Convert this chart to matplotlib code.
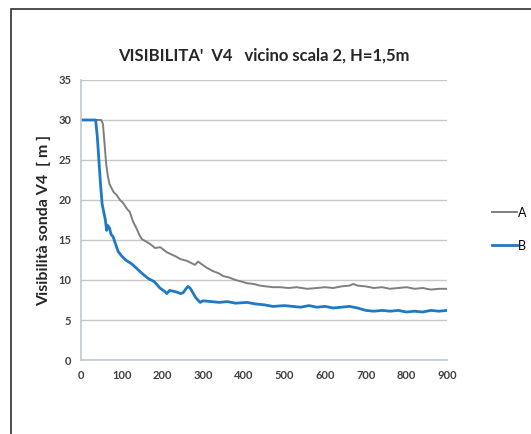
import matplotlib

matplotlib.use("Agg")
import matplotlib.pyplot as plt
from matplotlib.patches import Rectangle

# serie A (grigio)
x_a = [0, 50, 54, 58, 62, 66, 70, 75, 80, 88, 96, 104, 113, 120, 128, 136, 144, 150, 160, 170,
       182, 195, 210, 222, 231, 245, 260, 272, 280, 288, 296, 310, 325, 340, 349, 365, 380, 395,
       408, 425, 440, 455, 472, 490, 510, 530, 556, 580, 600, 620, 640, 660, 669, 680, 700, 720,
       740, 760, 780, 800, 820, 840, 860, 880, 900]
y_a = [30, 30, 29.5, 27, 24.5, 23, 22, 21.5, 21, 20.6, 20, 19.6, 18.9, 18.5, 17.3, 16.5, 15.6, 15.1,
       14.8, 14.5, 14.0, 14.1, 13.5, 13.2, 13.0, 12.6, 12.4, 12.1, 11.9, 12.3, 12.0, 11.5, 11.1,
       10.8, 10.5, 10.3, 10.0, 9.8, 9.6, 9.5, 9.3, 9.2, 9.1, 9.1, 9.0, 9.1, 8.9, 9.0, 9.1, 9.0,
       9.2, 9.3, 9.5, 9.3, 9.2, 9.0, 9.1, 8.9, 9.0, 9.1, 8.9, 9.0, 8.8, 8.9, 8.9]

# serie B (blu)
x_b = [0, 36, 40, 44, 48, 52, 56, 60, 63, 66, 70, 74, 79, 85, 91, 100, 110, 125, 140, 153, 165,
       180, 194, 205, 211, 218, 226, 235, 245, 251, 258, 263, 268, 274, 282, 293, 300, 320, 340,
       360, 380, 408, 430, 450, 472, 500, 520, 540, 560, 580, 600, 620, 640, 660, 680, 700, 720,
       740, 760, 780, 800, 820, 840, 860, 880, 900]
y_b = [30, 30, 28, 25, 22, 19.5, 18.5, 17.5, 16.2, 16.8, 16.5, 15.7, 15.4, 14.5, 13.6, 13.0, 12.5,
       12.0, 11.3, 10.7, 10.2, 9.8, 9.0, 8.6, 8.3, 8.7, 8.6, 8.5, 8.3, 8.4, 8.9, 9.2, 9.0, 8.5, 7.8,
       7.2, 7.4, 7.3, 7.2, 7.3, 7.1, 7.2, 7.0, 6.9, 6.7, 6.8, 6.7, 6.6, 6.8, 6.6, 6.7, 6.5, 6.6,
       6.7, 6.5, 6.2, 6.1, 6.2, 6.1, 6.2, 6.0, 6.1, 6.0, 6.2, 6.1, 6.2]

x_ticks = [0, 100, 200, 300, 400, 500, 600, 700, 800, 900]
y_ticks = [0, 5, 10, 15, 20, 25, 30, 35]

plt.rcParams["font.family"] = ["Lato", "DejaVu Sans"]

fig = plt.figure(figsize=(5.31, 4.34), dpi=100)
ax = fig.add_axes([0.1525, 0.1705, 0.6895, 0.6452])

ax.plot(x_a, y_a, color="#7f7f7f", lw=1.4, label="A")
ax.plot(x_b, y_b, color="#1f7ac4", lw=2.0, label="B")

ax.set_xlim(0, 900)
ax.set_ylim(0, 35)
ax.set_xticks(x_ticks)
ax.set_yticks(y_ticks)
ax.tick_params(length=0, labelsize=8, colors="#404040", pad=7)
for lbl in ax.get_xticklabels() + ax.get_yticklabels():
    lbl.set_fontweight("bold")
ax.grid(axis="y", color="#c8c8c8", lw=1)
for side in ["top", "right"]:
    ax.spines[side].set_visible(False)
for side in ["left", "bottom"]:
    ax.spines[side].set_color("#c0c8d0")
    ax.spines[side].set_linewidth(1.2)

ax.set_title("VISIBILITA'  V4   vicino scala 2, H=1,5m", fontsize=12, fontweight="bold",
             color="#262626", pad=14)
ax.set_ylabel("Visibilità sonda V4  [ m ]", fontsize=11.5, fontweight="bold", color="#262626",
              labelpad=5)

fig.legend(loc="center left", bbox_to_anchor=(0.905, 0.472), frameon=False, fontsize=9,
           handlelength=2.0, handletextpad=0.1, labelspacing=1.7)

fig.patches.append(Rectangle((11 / 531, -0.1), 1.2, 1.1 - 9 / 434, transform=fig.transFigure,
                             fill=False, edgecolor="#303030", lw=1.2))

fig.savefig("out.png", dpi=100)
